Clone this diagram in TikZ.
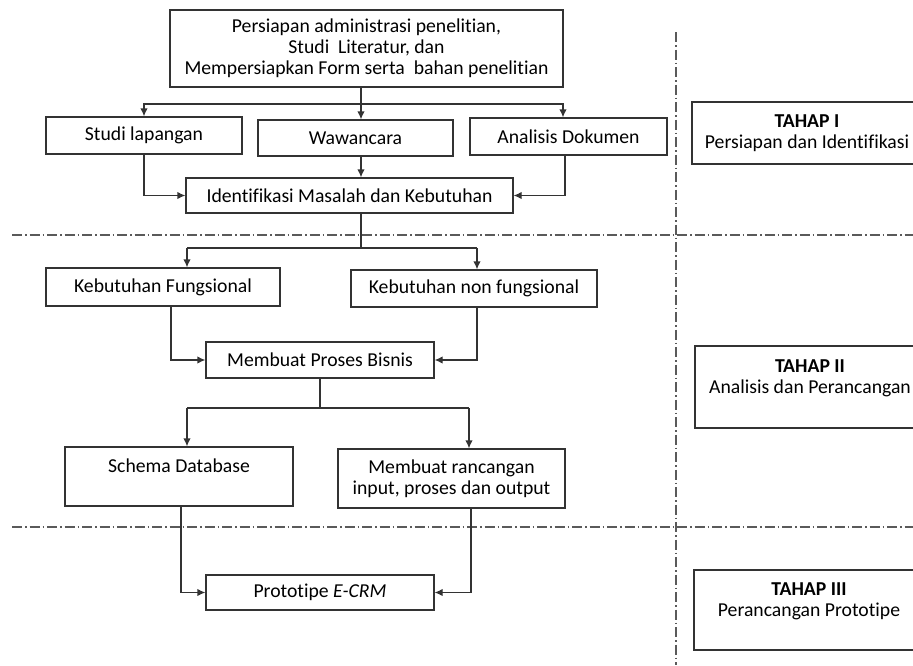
\documentclass[tikz,border=0pt]{standalone}
\usepackage{fontspec}
\setmainfont{Carlito}[Ligatures=NoCommon]
\usetikzlibrary{arrows.meta}
\definecolor{linegray}{HTML}{333333}
\definecolor{dashgray}{HTML}{5A5A5A}
\tikzset{
  procnode/.style={draw=linegray,line width=1.3pt,inner sep=0pt,align=center,font=\fontsize{19.7}{21}\selectfont},
  stagenode/.style={procnode,minimum width=230pt},
  arrow/.style={-{Latex[length=8pt,width=7.5pt]},line width=1.3pt,linegray},
  flow/.style={line width=1.3pt,linegray},
  phaseline/.style={line width=1.5pt,dashgray,dash pattern=on 10pt off 3pt on 1.5pt off 3pt}
}

\begin{document}
\begin{tikzpicture}[x=1pt,y=-1pt]
  \useasboundingbox (0,0) rectangle (913,665);
  \clip (0,0) rectangle (913,665);

  % phase separators
  \draw[phaseline] (12,235) -- (913,235);
  \draw[phaseline] (12,527) -- (913,527);
  \draw[phaseline] (676,32) -- (676,665);

  % Tahap I
  \node[procnode,minimum width=393pt,minimum height=77pt] (prep) at (366.5,48.5) {Persiapan administrasi penelitian,\\Studi\ \ Literatur, dan\\Mempersiapkan Form serta\ \ bahan penelitian};
  \node[procnode,minimum width=196pt,minimum height=37pt] (studi) at (144,135.5) {Studi lapangan};
  \node[procnode,minimum width=195pt,minimum height=36pt] (wawan) at (355.5,138) {Wawancara};
  \node[procnode,minimum width=197pt,minimum height=37pt] (dokumen) at (568.5,136.5) {Analisis Dokumen};
  \node[procnode,minimum width=327pt,minimum height=35pt] (ident) at (349.5,195.5) {Identifikasi Masalah dan Kebutuhan};

  % Tahap II
  \node[procnode,minimum width=234pt,minimum height=38pt] (fungsi) at (163,287) {Kebutuhan Fungsional};
  \node[procnode,minimum width=246pt,minimum height=37pt] (nonfungsi) at (474,288.5) {Kebutuhan non fungsional};
  \node[procnode,minimum width=228pt,minimum height=36pt] (bisnis) at (320,360) {Membuat Proses Bisnis};
  \node[procnode,minimum width=228pt,minimum height=59pt] (schema) at (179,476.5) {Schema Database\\~};
  \node[procnode,minimum width=227pt,minimum height=59pt] (rancang) at (451.5,478.5) {Membuat rancangan\\input, proses dan output};

  % Tahap III
  \node[procnode,minimum width=228pt,minimum height=35pt] (proto) at (320,592.5) {Prototipe \textit{E-CRM}};

  % stage labels
  \node[stagenode,minimum height=62pt] (tahap1) at (807,133) {\textbf{TAHAP I}\\Persiapan dan Identifikasi};
  \node[stagenode,minimum height=82pt] (tahap2) at (810,387) {\textbf{TAHAP II}\\Analisis dan Perancangan\\~};
  \node[stagenode,minimum height=80pt] (tahap3) at (809,610) {\textbf{TAHAP III}\\Perancangan Prototipe\\~};

  \coordinate (s1) at (361,104);
  \coordinate (s2l) at (187,248);
  \coordinate (s2r) at (477,248);
  \coordinate (s3l) at (187,408);
  \coordinate (s3r) at (469,408);

  \draw[flow] (prep.south -| s1) -- (s1);
  \draw[arrow] (s1) -| (studi);
  \draw[arrow] (s1) -- (s1 |- wawan.north);
  \draw[arrow] (s1) -| ([xshift=-5.5pt]dokumen.north);
  \draw[arrow] (studi) |- (ident);
  \draw[arrow] (wawan.south -| s1) -- (s1 |- ident.north);
  \draw[arrow] ([xshift=-3.5pt]dokumen.south) |- (ident);

  \draw[flow] (ident.south -| s1) -- (s1 |- s2l);
  \draw[flow] (s2l) -- (s2r);
  \draw[arrow] (s2l) -- (s2l |- fungsi.north);
  \draw[arrow] (s2r) -- (s2r |- nonfungsi.north);
  \draw[arrow] ([xshift=8pt]fungsi.south) |- (bisnis.west);
  \draw[arrow] (nonfungsi.south -| s2r) |- (bisnis.east);

  \draw[flow] (bisnis) -- (bisnis |- s3l);
  \draw[flow] (s3l) -- (s3r);
  \draw[arrow] (s3l) -- (s3l |- schema.north);
  \draw[arrow] (s3r) -- (s3r |- rancang.north);
  \draw[arrow] ([xshift=2pt]schema.south) |- (proto.west);
  \draw[arrow] ([xshift=19.5pt]rancang.south) |- (proto.east);
\end{tikzpicture}
\end{document}
